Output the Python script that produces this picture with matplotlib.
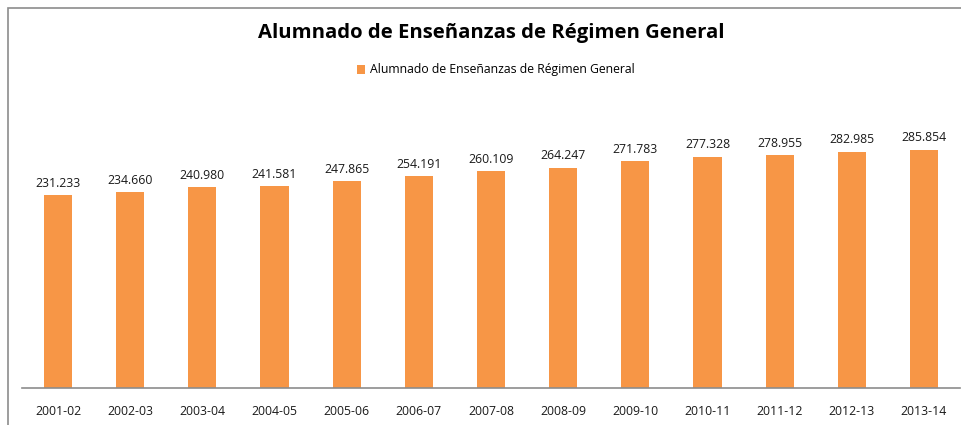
import matplotlib.pyplot as plt
from matplotlib.patches import Rectangle

# data #########################################################################
cursos = ["2001-02", "2002-03", "2003-04", "2004-05", "2005-06", "2006-07",
          "2007-08", "2008-09", "2009-10", "2010-11", "2011-12", "2012-13",
          "2013-14"]
alumnado = [231233, 234660, 240980, 241581, 247865, 254191,
            260109, 264247, 271783, 277328, 278955, 282985, 285854]
etiquetas = ["231.233", "234.660", "240.980", "241.581", "247.865", "254.191",
             "260.109", "264.247", "271.783", "277.328", "278.955", "282.985",
             "285.854"]
titulo = "Alumnado de Enseñanzas de Régimen General"

# init #########################################################################
plt.rcParams['font.family'] = ['Open Sans', 'DejaVu Sans']
W, H = 962, 425
fig = plt.figure(figsize=(W / 100, H / 100), dpi=100)

# frame (clipped at right and bottom like the screenshot)
fig.patches.append(Rectangle((8 / W, -0.1), 1.1, (H - 8) / H + 0.1,
                             transform=fig.transFigure, fill=False,
                             edgecolor='#8c8c8c', linewidth=1.2))

ax = fig.add_axes([22 / W, 37 / H, 938 / W, 292 / H])

x = range(len(cursos))
bars = ax.bar(x, alumnado, width=0.39, color='#F79646', label=titulo)

for b, txt in zip(bars, etiquetas):
    ax.text(b.get_x() + b.get_width() / 2, b.get_height() + 6500, txt,
            ha='center', va='bottom', fontsize=8.8, color='#1a1a1a')

# axis #########################################################################
ax.set_xlim(-0.5, len(cursos) - 0.5)
ax.set_ylim(0, 350000)
ax.set_xticks(list(x))
ax.set_xticklabels(cursos, fontsize=8.8, color='#1a1a1a')
ax.tick_params(axis='x', length=0, pad=12)
ax.set_yticks([])
for s in ('top', 'right', 'left'):
    ax.spines[s].set_visible(False)
ax.spines['bottom'].set_color('#8c8c8c')
ax.spines['bottom'].set_linewidth(1.2)

# title + legend ###############################################################
fig.text(491 / W, 1 - 33 / H, titulo, ha='center', va='center',
         fontsize=14.6, fontweight='bold', color='black')
fig.legend(handles=[bars], labels=[titulo], loc='center',
           bbox_to_anchor=(496 / W, 1 - 70 / H), frameon=False,
           fontsize=8.8, handlelength=0.7, handleheight=0.7,
           handletextpad=0.4)

fig.savefig("out.png", dpi=100)
